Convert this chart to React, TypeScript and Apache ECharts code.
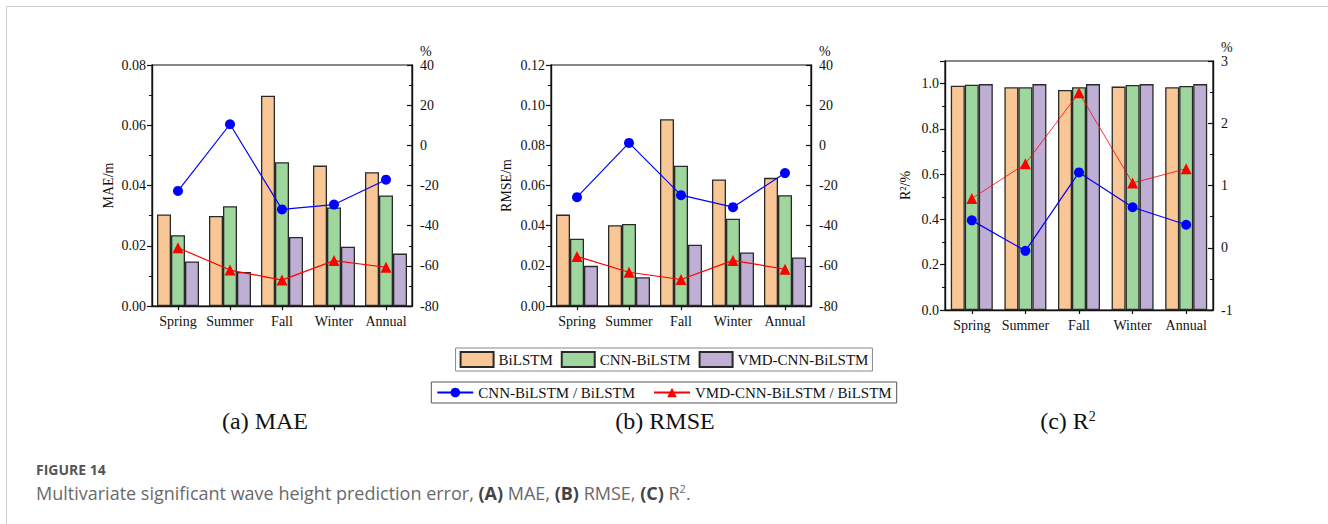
import React, { useEffect, useRef } from "react";
import * as echarts from "echarts";

const categories = ["Spring", "Summer", "Fall", "Winter", "Annual"];
const barNames = ["BiLSTM", "CNN-BiLSTM", "VMD-CNN-BiLSTM"];
const lineNames = ["CNN-BiLSTM / BiLSTM", "VMD-CNN-BiLSTM / BiLSTM"];

const maeBiLSTM = [0.0304, 0.0299, 0.0698, 0.0466, 0.0444];
const maeCNN = [0.0235, 0.0331, 0.0477, 0.0327, 0.0367];
const maeVMD = [0.0148, 0.0113, 0.0229, 0.0197, 0.0174];
const maeCnnRatio = [-22.7, 10.5, -31.9, -29.5, -17.1];
const maeVmdRatio = [-51.0, -62.1, -67.1, -57.4, -60.7];

const rmseBiLSTM = [0.0455, 0.0402, 0.093, 0.063, 0.0638];
const rmseCNN = [0.0335, 0.0408, 0.0698, 0.0435, 0.0552];
const rmseVMD = [0.02, 0.0143, 0.0305, 0.0267, 0.0242];
const rmseCnnRatio = [-25.8, 1.2, -24.8, -30.8, -13.8];
const rmseVmdRatio = [-55.3, -63.2, -66.8, -57.3, -61.7];

const r2BiLSTM = [0.991, 0.984, 0.972, 0.987, 0.984];
const r2CNN = [0.995, 0.984, 0.984, 0.994, 0.99];
const r2VMD = [0.998, 0.998, 0.998, 0.998, 0.998];
const r2CnnRatio = [0.44, -0.05, 1.21, 0.65, 0.37];
const r2VmdRatio = [0.79, 1.35, 2.49, 1.04, 1.27];

const barColors = ["#F9C795", "#9ED69D", "#BFAFD5"];
const SERIF = "Liberation Serif, Times New Roman, serif";

export default function App() {
  const ref = useRef<HTMLDivElement>(null);
  useEffect(() => {
    if (!ref.current) return;
    const chart = echarts.init(ref.current, undefined, { renderer: "svg" });

    const grids = [
      { left: 152, top: 65, width: 260, height: 241 },
      { left: 551, top: 65, width: 260, height: 241 },
      { left: 945, top: 61, width: 268, height: 249 },
    ].map((g) => ({ ...g, show: true, borderColor: "#111", borderWidth: 1.2, backgroundColor: "transparent" }));

    const leftDefs = [
      { name: "MAE/m", min: 0, max: 0.08, interval: 0.02, dec: 2, gap: 37 },
      { name: "RMSE/m", min: 0, max: 0.12, interval: 0.02, dec: 2, gap: 38 },
      { name: "R²/%", min: 0, max: 1.1, interval: 0.2, dec: 1, gap: 33 },
    ];
    const rightDefs = [
      { min: -80, max: 40, interval: 20 },
      { min: -80, max: 40, interval: 20 },
      { min: -1, max: 3, interval: 1 },
    ];
    const labelStyle = { fontFamily: SERIF, fontSize: 14, color: "#111" };
    const axisLine = { show: true, lineStyle: { color: "#111", width: 1.4 } };

    const xAxis = [0, 1, 2].map((i) => ({
      type: "category",
      gridIndex: i,
      data: categories,
      axisLine,
      axisTick: { show: true, alignWithLabel: true, length: 4, lineStyle: { color: "#111", width: 1.2 } },
      axisLabel: { ...labelStyle, margin: 8, interval: 0, hideOverlap: false },
      splitLine: { show: false },
    }));

    const yAxis: any[] = [];
    leftDefs.forEach((d, i) => {
      yAxis.push({
        type: "value",
        gridIndex: i,
        position: "left",
        min: d.min,
        max: d.max,
        interval: d.interval,
        name: d.name,
        nameLocation: "middle",
        nameGap: d.gap,
        nameTextStyle: { fontFamily: SERIF, fontSize: 14, color: "#111" },
        axisLine,
        axisTick: { show: true, length: 5, lineStyle: { color: "#111", width: 1.2 } },
        minorTick: { show: true, splitNumber: 2, length: 3, lineStyle: { color: "#111", width: 1 } },
        axisLabel: {
          ...labelStyle,
          margin: 6,
          formatter: (v: number) => (Math.abs(v - d.max) < 1e-9 && d.max === 1.1 ? "" : v.toFixed(d.dec)),
        },
        splitLine: { show: false },
      });
    });
    rightDefs.forEach((d, i) => {
      yAxis.push({
        type: "value",
        gridIndex: i,
        position: "right",
        min: d.min,
        max: d.max,
        interval: d.interval,
        name: "%",
        nameLocation: "end",
        nameGap: 6,
        nameTextStyle: { fontFamily: SERIF, fontSize: 14, color: "#111", align: "left", padding: [0, 0, 0, 8] },
        axisLine,
        axisTick: { show: true, inside: true, length: 5, lineStyle: { color: "#111", width: 1.2 } },
        minorTick: { show: true, splitNumber: 2, length: 3, lineStyle: { color: "#111", width: 1 } },
        axisLabel: { ...labelStyle, margin: 8 },
        splitLine: { show: false },
      });
    });

    const panels = [
      { bars: [maeBiLSTM, maeCNN, maeVMD], lines: [maeCnnRatio, maeVmdRatio], redW: 1.2 },
      { bars: [rmseBiLSTM, rmseCNN, rmseVMD], lines: [rmseCnnRatio, rmseVmdRatio], redW: 1.2 },
      { bars: [r2BiLSTM, r2CNN, r2VMD], lines: [r2CnnRatio, r2VmdRatio], redW: 0.8 },
    ];
    const series: any[] = [];
    panels.forEach((p, i) => {
      p.bars.forEach((vals, j) => {
        series.push({
          type: "bar",
          name: barNames[j],
          xAxisIndex: i,
          yAxisIndex: i,
          data: vals,
          barWidth: 14,
          barGap: "0%",
          itemStyle: { color: barColors[j], borderColor: "#2a2a2a", borderWidth: 1.3 },
        });
      });
      series.push({
        type: "line",
        name: lineNames[0],
        xAxisIndex: i,
        yAxisIndex: 3 + i,
        data: p.lines[0],
        symbol: "circle",
        symbolSize: 10,
        lineStyle: { color: "#0000FF", width: 1.2 },
        itemStyle: { color: "#0000FF" },
        z: 5,
      });
      series.push({
        type: "line",
        name: lineNames[1],
        xAxisIndex: i,
        yAxisIndex: 3 + i,
        data: p.lines[1],
        symbol: "triangle",
        symbolSize: 11,
        lineStyle: { color: "#FF0000", width: p.redW },
        itemStyle: { color: "#FF0000" },
        z: 5,
      });
    });

    const legendText = { fontFamily: SERIF, fontSize: 15, color: "#111" };
    const option: any = {
      animation: false,
      backgroundColor: "#fff",
      grid: grids,
      xAxis,
      yAxis,
      series,
      legend: [
        {
          data: barNames,
          left: "center",
          top: 348,
          icon: "rect",
          itemWidth: 33,
          itemHeight: 15,
          itemGap: 8,
          padding: [3, 4, 3, 4],
          borderColor: "#888",
          borderWidth: 1,
          textStyle: legendText,
          selectedMode: false,
        },
        {
          data: lineNames,
          left: "center",
          top: 382,
          itemWidth: 36,
          itemHeight: 12,
          itemGap: 18,
          padding: [3, 5, 3, 5],
          borderColor: "#555",
          borderWidth: 1,
          textStyle: legendText,
          selectedMode: false,
        },
      ],
      graphic: [
        { type: "line", shape: { x1: 6, y1: 6.5, x2: 1328, y2: 6.5 }, style: { stroke: "#cfcfcf", lineWidth: 1 } },
        { type: "line", shape: { x1: 6.5, y1: 6, x2: 6.5, y2: 524 }, style: { stroke: "#cfcfcf", lineWidth: 1 } },
        { type: "text", x: 265, y: 421, style: { text: "(a) MAE", font: `24px ${SERIF}`, fill: "#111", align: "center", verticalAlign: "middle" } },
        { type: "text", x: 665, y: 421, style: { text: "(b) RMSE", font: `24px ${SERIF}`, fill: "#111", align: "center", verticalAlign: "middle" } },
        {
          type: "text",
          x: 1068,
          y: 421,
          style: {
            text: "(c) R{sup|2}",
            font: `24px ${SERIF}`,
            fill: "#111",
            align: "center",
            verticalAlign: "middle",
            rich: { sup: { fontFamily: SERIF, fontSize: 14, fill: "#111", verticalAlign: "top", padding: [0, 0, 10, 0] } },
          },
        },
        { type: "text", x: 36, y: 469, style: { text: "FIGURE 14", font: `bold 14px "Open Sans", sans-serif`, fill: "#555", verticalAlign: "middle" } },
        {
          type: "text",
          x: 36,
          y: 493,
          style: {
            text: "Multivariate significant wave height prediction error, {b|(A)} MAE, {b|(B)} RMSE, {b|(C)} R{s|2}.",
            font: `18px "Open Sans", sans-serif`,
            fill: "#6a6a6a",
            verticalAlign: "middle",
            rich: {
              b: { fontFamily: "Open Sans, sans-serif", fontSize: 18, fontWeight: "bold", fill: "#444" },
              s: { fontFamily: "Open Sans, sans-serif", fontSize: 11, fill: "#6a6a6a", padding: [0, 0, 10, 0] },
            },
          },
        },
      ],
    };
    chart.setOption(option);
    return () => chart.dispose();
  }, []);

  return <div ref={ref} style={{ position: "fixed", left: 0, top: 0, width: 1328, height: 524 }} />;
}
